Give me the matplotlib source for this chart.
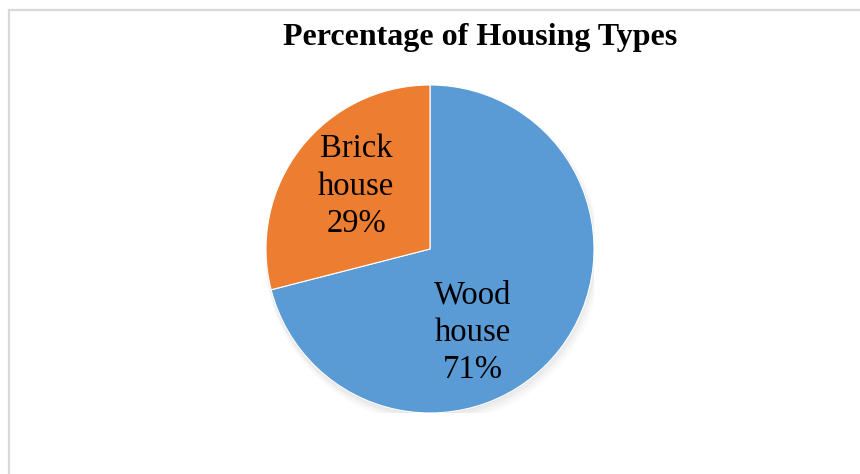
import matplotlib.pyplot as plt
from matplotlib.patches import Rectangle, Circle

# -------- DATA --------
labels = ["Wood\nhouse", "Brick\nhouse"]
shares = [71, 29]
colors = ["#5B9BD5", "#ED7D31"]

W, H = 860, 474
fig = plt.figure(figsize=(W / 100, H / 100), dpi=100)
fig.patch.set_facecolor("white")

# chart area border (only top and left edges fall inside the frame)
fig.add_artist(Rectangle((8.5 / W, -0.1), 1.5, 1.1 - 10.5 / H, transform=fig.transFigure,
                         fill=False, edgecolor="#d9d9d9", linewidth=1.6))

# -------- PIE --------
cx, cy, r = 430, 249, 164
ax = fig.add_axes([(cx - r) / W, (H - cy - r) / H, 2 * r / W, 2 * r / H])
ax.axis("off")

# soft shadow under the pie
for i, a in enumerate([0.035, 0.03, 0.025, 0.02]):
    ax.add_patch(Circle((0.006 * i, -0.01 * (i + 1)), 1.0 + 0.008 * i, color="black",
                        alpha=a, linewidth=0, zorder=0))

wedges, _ = ax.pie(shares, colors=colors, startangle=90, counterclock=False,
                   radius=1.0, wedgeprops=dict(linewidth=0.8, edgecolor="white"))
for w in wedges:
    w.set_zorder(2)
ax.set_xlim(-1, 1)
ax.set_ylim(-1, 1)
ax.set_aspect("equal")

# data labels inside the slices
label_pos = [(0.26, -0.51), (-0.45, 0.38)]
for lab, val, (x, y) in zip(labels, shares, label_pos):
    ax.text(x, y, f"{lab}\n{val}%", ha="center", va="center", fontsize=23.5,
            family="Liberation Serif", linespacing=1.3, zorder=3)

# -------- TITLE --------
fig.text(480 / W, 1 - 45 / H, "Percentage of Housing Types", ha="center", va="baseline",
         fontsize=23, fontweight="bold", family="Liberation Serif")

fig.savefig("out.png", dpi=100)
